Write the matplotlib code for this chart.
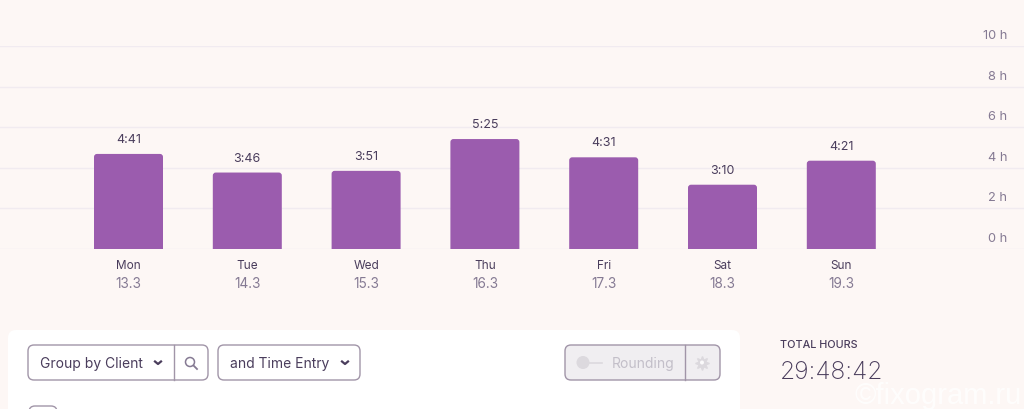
import matplotlib
matplotlib.use("Agg")
import matplotlib.pyplot as plt
from matplotlib.patches import Circle, FancyBboxPatch
from matplotlib.lines import Line2D

plt.rcParams["font.family"] = ["Inter", "DejaVu Sans"]

days = ["Mon", "Tue", "Wed", "Thu", "Fri", "Sat", "Sun"]
dates = ["13.3", "14.3", "15.3", "16.3", "17.3", "18.3", "19.3"]
durations = ["4:41", "3:46", "3:51", "5:25", "4:31", "3:10", "4:21"]
y_ticks = [0, 2, 4, 6, 8, 10]

BG = "#fdf7f5"
BAR = "#9b5cae"
GRID = "#f1ebf0"
INK = "#4a3d5c"
MUTED = "#857a93"
EDGE = "#a195a8"

W, H = 1024, 410
fig = plt.figure(figsize=(W / 100, H / 100), dpi=100, facecolor=BG)

# pixel canvas for the page furniture, drawn under the chart
ui = fig.add_axes([0, 0, 1, 1], zorder=0)
ui.set_xlim(0, W)
ui.set_ylim(H - 1, -1)
ui.axis("off")

# chart axes: 0 h sits at y=250 px, 10 h at y=47 px once rasterised
ax = fig.add_axes([0, (H - 250) / H, 1, (250 - 47) / H], zorder=1)
ax.patch.set_alpha(0)
ax.set_xlim(-128.5 / 118.8, (W - 128.5) / 118.8)
ax.set_ylim(0, 10)
for s in ax.spines.values():
    s.set_visible(False)
ax.set_xticks([])
ax.set_yticks(y_ticks)
ax.set_yticklabels([])
ax.tick_params(length=0)
ax.grid(axis="y", color=GRID, lw=1.0, zorder=0)
ax.set_axisbelow(True)

hours = [int(d.split(":")[0]) + int(d.split(":")[1]) / 60 for d in durations]
px_x = 1 / 118.8
px_y = 10 / 203
bar_w = 69 * px_x
for i, v in enumerate(hours):
    # run the box below zero so only the top corners show rounded
    ax.add_patch(FancyBboxPatch(
        (i - bar_w / 2, -1), bar_w, v + 1,
        boxstyle=f"round,pad=0,rounding_size={3 * px_x}",
        mutation_aspect=px_y / px_x, fc=BAR, ec="none", zorder=2,
    ))
    ax.annotate(durations[i], (i, v), xytext=(0, 9), textcoords="offset pixels",
                ha="center", va="bottom", fontsize=9, color=INK)
    ax.annotate(days[i], (i, 0), xytext=(0, -16), textcoords="offset pixels",
                ha="center", va="center", fontsize=8.5, color=INK, annotation_clip=False)
    ax.annotate(dates[i], (i, 0), xytext=(0, -34), textcoords="offset pixels",
                ha="center", va="center", fontsize=9.8, color=MUTED, annotation_clip=False)

for t in y_ticks:
    ax.annotate(f"{t} h", (1, t), xycoords=("axes fraction", "data"),
                xytext=(-17, 11), textcoords="offset pixels",
                ha="right", va="center", fontsize=9.2, color=MUTED, annotation_clip=False)


def rbox(x0, y0, x1, y1, r=6, fc="white", ec=EDGE, lw=1.0, z=2):
    ui.add_patch(FancyBboxPatch((x0, y0), x1 - x0, y1 - y0,
                                boxstyle=f"round,pad=0,rounding_size={r}",
                                fc=fc, ec=ec, lw=lw, zorder=z))


# white card
rbox(8, 330, 740, 430, r=8, ec="none", z=1)

# group-by controls
rbox(28, 345, 208, 380)
ui.add_line(Line2D([173.5, 173.5], [345, 380], color=EDGE, lw=1.0, zorder=3))
ui.text(40, 363, "Group by Client", fontsize=10, color=INK, va="center", zorder=3)
rbox(218, 345, 360, 380)
ui.text(230, 363, "and Time Entry", fontsize=10, color=INK, va="center", zorder=3)
for cx in (158, 345):
    ui.add_line(Line2D([cx - 3, cx, cx + 3], [361.5, 364, 361.5], color=INK, lw=1.6, zorder=3))

# magnifier
ui.add_patch(Circle((190, 362), 4.5, fc="none", ec=MUTED, lw=1.1, zorder=3))
ui.add_line(Line2D([193.5, 197], [365.5, 369], color=MUTED, lw=1.3, zorder=3))

# rounding control, disabled
rbox(565, 345, 720, 380, fc="#f0eef1")
ui.add_line(Line2D([684.5, 684.5], [345, 380], color=EDGE, lw=1.0, zorder=3))
ui.add_patch(Circle((583, 362.5), 6.5, fc="#dcd9de", ec="none", zorder=3))
ui.add_line(Line2D([588, 602], [362.5, 362.5], color="#dcd9de", lw=1.2, zorder=3))
ui.text(612, 363, "Rounding", fontsize=10, color="#c3bfc9", va="center", zorder=3)
ui.plot(702, 362.5, marker=(8, 1, 0), ms=10, color="#dcd9de", zorder=3)
ui.add_patch(Circle((702, 362.5), 2.0, fc="#fbfafb", ec="none", zorder=4))

# cut-off checkbox at the bottom of the card
rbox(29, 406, 57, 430, ec=EDGE, z=2)

# totals
ui.text(780, 344.5, "TOTAL HOURS", fontsize=7.8, color=INK, va="center", fontweight="medium")
ui.text(780, 372, "29:48:42", fontsize=17.8, color=INK, va="center", fontweight="light")

# watermark
ui.text(1022, 395, "©fixogram.ru", fontsize=21, color="white", alpha=0.8,
        ha="right", va="center", zorder=5, family=["Liberation Sans"])

fig.savefig("out.png", dpi=100, facecolor=fig.get_facecolor())
plt.close(fig)
